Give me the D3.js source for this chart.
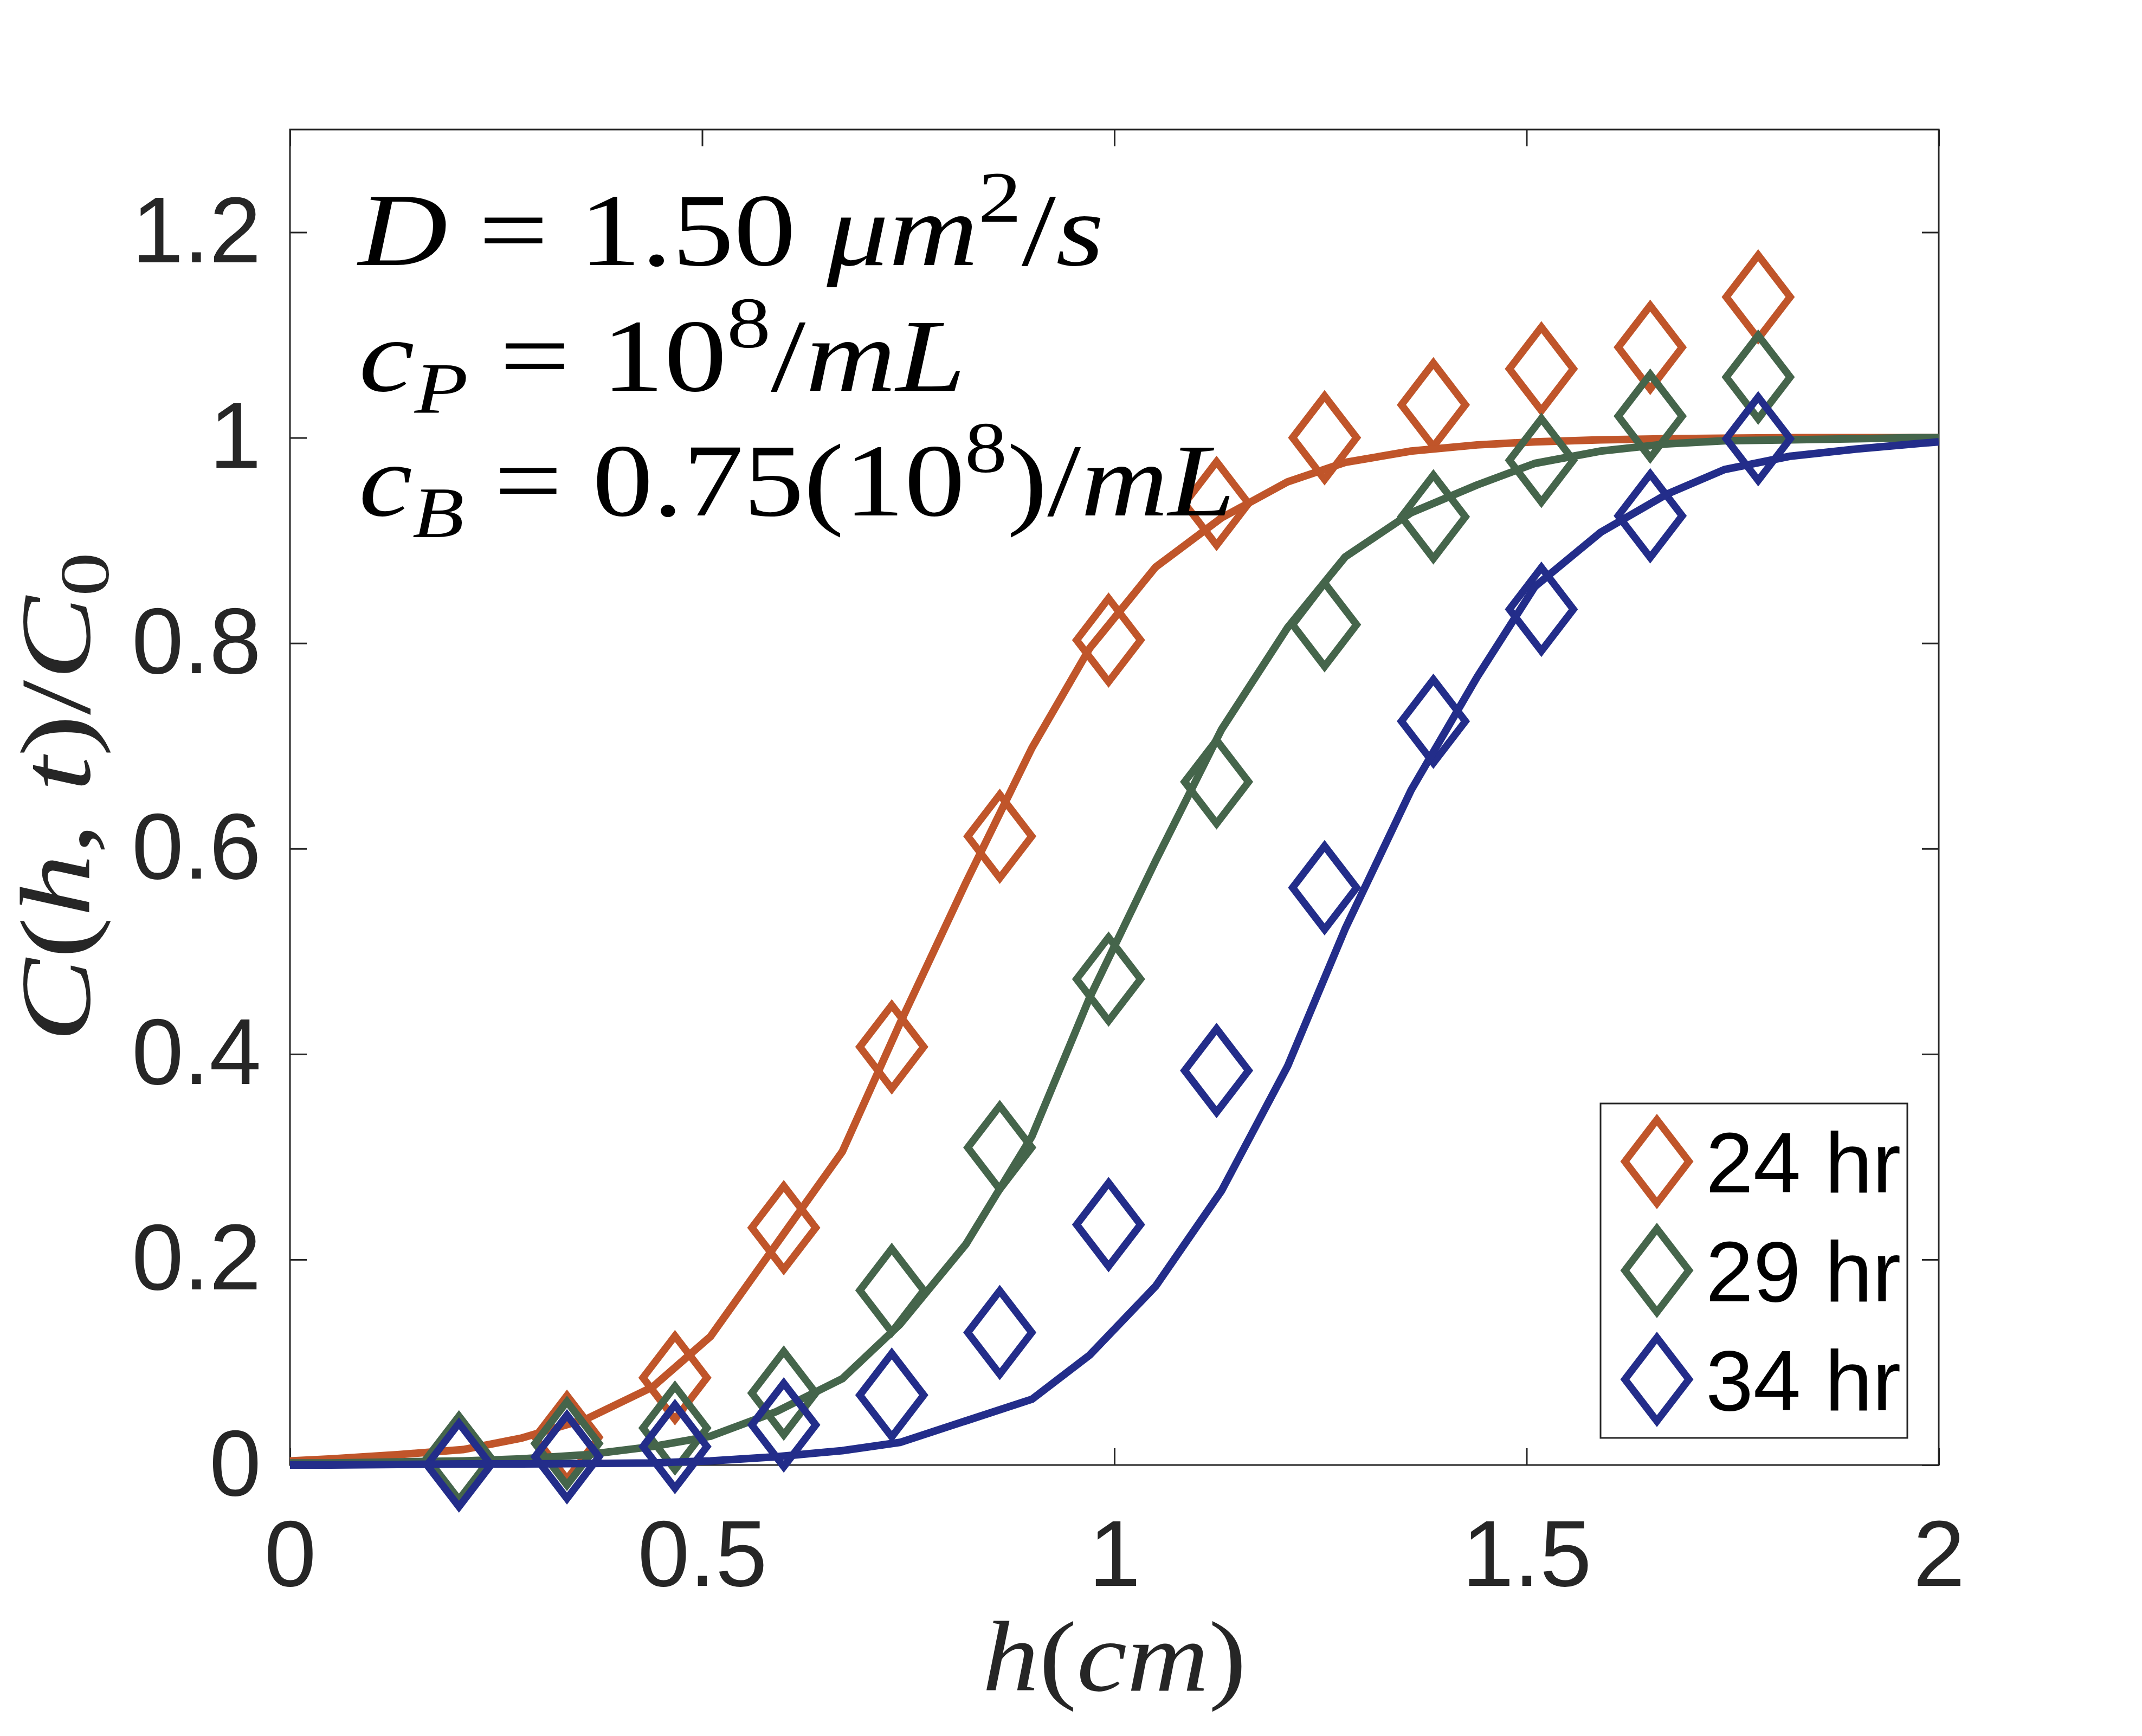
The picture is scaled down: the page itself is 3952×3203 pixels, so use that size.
<!DOCTYPE html>
<html>
<head>
<meta charset="utf-8">
<script src="https://cdn.jsdelivr.net/npm/d3@7"></script>
<style>
  body { margin: 0; background: #fff; }
  svg { display: block; }
</style>
</head>
<body>
<svg id="chart"></svg>
<script>
// ****** data ****** //
const seriesNames = ['24 hr', '29 hr', '34 hr'];
const seriesColors = ['#C0552A', '#45654B', '#232D8A'];

// measured points (diamonds)
const markerH = [0.205, 0.336, 0.467, 0.599, 0.730, 0.861, 0.993, 1.124, 1.255, 1.387, 1.518, 1.650, 1.781];
const measured24 = [0.005, 0.027, 0.085, 0.231, 0.407, 0.612, 0.803, 0.936, 1.0, 1.032, 1.067, 1.088, 1.137];
const measured29 = [0.007, 0.021, 0.036, 0.070, 0.170, 0.309, 0.473, 0.665, 0.818, 0.923, 0.978, 1.021, 1.059];
const measured34 = [0.0, 0.008, 0.018, 0.039, 0.068, 0.129, 0.234, 0.384, 0.562, 0.724, 0.833, 0.924, 0.999];

// model curves (solid lines)
const lineH = [0, 0.05, 0.13, 0.21, 0.28, 0.36, 0.44, 0.51, 0.59, 0.67, 0.74, 0.82, 0.90, 0.97,
               1.05, 1.13, 1.21, 1.28, 1.36, 1.44, 1.51, 1.59, 1.67, 1.74, 1.82, 1.90, 1.97, 2.0];
const model24 = [0.004, 0.006, 0.010, 0.015, 0.026, 0.045, 0.076, 0.125, 0.215, 0.305, 0.43, 0.567, 0.698, 0.795,
                 0.874, 0.922, 0.957, 0.976, 0.987, 0.993, 0.996, 0.998, 0.999, 0.9995, 1.0, 1.0, 1.0, 1.0];
const model29 = [0.002, 0.002, 0.003, 0.004, 0.006, 0.010, 0.018, 0.028, 0.052, 0.084, 0.137, 0.215, 0.32, 0.455,
                 0.588, 0.716, 0.815, 0.884, 0.927, 0.954, 0.975, 0.987, 0.994, 0.997, 0.998, 0.999, 1.0, 1.0];
const model34 = [0.0, 0.0, 0.0005, 0.001, 0.001, 0.0015, 0.002, 0.004, 0.008, 0.014, 0.022, 0.043, 0.064, 0.107,
                 0.174, 0.267, 0.388, 0.522, 0.657, 0.767, 0.855, 0.908, 0.945, 0.969, 0.982, 0.989, 0.994, 0.996];

const xTicks = [0, 0.5, 1, 1.5, 2];
const yTicks = [0, 0.2, 0.4, 0.6, 0.8, 1, 1.2];

const measured = [measured24, measured29, measured34];
const models = [model24, model29, model34];

// ****** layout ****** //
const W = 3952, H = 3203;
const plot = {left: 535, right: 3577, top: 239, bottom: 2703};
const axisColor = '#262626';
const tickLen = 31;

const svg = d3.select('#chart').attr('width', W).attr('height', H);
svg.append('rect').attr('width', W).attr('height', H).attr('fill', '#fff');

const x = d3.scaleLinear().domain([0, 2]).range([plot.left, plot.right]);
const y = d3.scaleLinear().domain([0, 1.3]).range([plot.bottom, plot.top]);
const fmt = d3.format('~g');

// ****** axes (ticks inside, mirrored) ****** //
function styleAxis(g) {
    g.select('.domain').remove();
    g.selectAll('.tick line').attr('stroke', axisColor).attr('stroke-width', 3);
    g.selectAll('.tick text')
        .attr('fill', axisColor)
        .attr('font-family', '"Liberation Sans", Arial, sans-serif')
        .attr('font-size', 172);
}

svg.append('g')
    .attr('transform', 'translate(0,' + plot.bottom + ')')
    .call(d3.axisBottom(x).tickValues(xTicks).tickFormat(fmt).tickSizeInner(-tickLen).tickSizeOuter(0).tickPadding(101))
    .call(styleAxis);
svg.append('g')
    .attr('transform', 'translate(0,' + plot.top + ')')
    .call(d3.axisTop(x).tickValues(xTicks).tickFormat('').tickSizeInner(-tickLen).tickSizeOuter(0))
    .call(styleAxis);
svg.append('g')
    .attr('transform', 'translate(' + plot.left + ',0)')
    .call(d3.axisLeft(y).tickValues(yTicks).tickFormat(fmt).tickSizeInner(-tickLen).tickSizeOuter(0).tickPadding(53))
    .call(styleAxis);
svg.append('g')
    .attr('transform', 'translate(' + plot.right + ',0)')
    .call(d3.axisRight(y).tickValues(yTicks).tickFormat('').tickSizeInner(-tickLen).tickSizeOuter(0))
    .call(styleAxis);

svg.append('rect')
    .attr('x', plot.left).attr('y', plot.top)
    .attr('width', plot.right - plot.left).attr('height', plot.bottom - plot.top)
    .attr('fill', 'none').attr('stroke', axisColor).attr('stroke-width', 3);

// ****** data marks ****** //
const halfW = 59, halfH = 77;
function diamond(cx, cy) {
    return 'M' + cx + ',' + (cy - halfH) + 'L' + (cx + halfW) + ',' + cy +
           'L' + cx + ',' + (cy + halfH) + 'L' + (cx - halfW) + ',' + cy + 'Z';
}

const line = d3.line().x(function(d){ return x(d[0]); }).y(function(d){ return y(d[1]); });
const marks = svg.append('g');

for (let s = 0; s < seriesNames.length; s++) {
    marks.append('g').selectAll('path')
        .data(markerH.map(function(h, i){ return [h, measured[s][i]]; }))
        .enter().append('path')
        .attr('d', function(d){ return diamond(x(d[0]), y(d[1])); })
        .attr('fill', 'none')
        .attr('stroke', seriesColors[s])
        .attr('stroke-width', 13.5)
        .attr('stroke-linejoin', 'miter');

    marks.append('path')
        .datum(lineH.map(function(h, i){ return [h, models[s][i]]; }))
        .attr('d', line)
        .attr('fill', 'none')
        .attr('stroke', seriesColors[s])
        .attr('stroke-width', 14)
        .attr('stroke-linejoin', 'round');
}

// ****** annotation ****** //
const serif = '"Liberation Serif", "Times New Roman", serif';
const note = svg.append('g').attr('font-family', serif).attr('fill', '#000');

function mathLine(yBase, xStart, width, parts) {
    const t = note.append('text')
        .attr('x', xStart).attr('y', yBase)
        .attr('font-size', 190)
        .attr('textLength', width)
        .attr('lengthAdjust', 'spacingAndGlyphs');
    parts.forEach(function(p){
        const ts = t.append('tspan').text(p.t);
        if (p.i) ts.attr('font-style', 'italic');
        if (p.sup) ts.attr('font-size', 133).attr('dy', -80);
        if (p.sub) ts.attr('font-size', 133).attr('dy', 40);
        if (p.back) ts.attr('dy', p.back);
    });
}

mathLine(489, 661, 1376, [
    {t: 'D', i: true}, {t: ' = 1.50 '}, {t: 'μm', i: true},
    {t: '2', sup: true}, {t: '/', back: 80}, {t: 's', i: true}
]);
mathLine(721, 662, 1120, [
    {t: 'c', i: true}, {t: 'P', i: true, sub: true}, {t: ' = 10', back: -40},
    {t: '8', sup: true}, {t: '/', back: 80}, {t: 'mL', i: true}
]);
mathLine(951, 662, 1617, [
    {t: 'c', i: true}, {t: 'B', i: true, sub: true}, {t: ' = 0.75(10', back: -40},
    {t: '8', sup: true}, {t: ')/', back: 80}, {t: 'mL', i: true}
]);

// ****** axis titles ****** //
svg.append('text')
    .attr('transform', 'translate(165,' + ((plot.top + plot.bottom) / 2) + ') rotate(-90)')
    .attr('text-anchor', 'middle')
    .attr('font-family', serif).attr('font-size', 185).attr('fill', axisColor)
    .attr('textLength', 904).attr('lengthAdjust', 'spacingAndGlyphs')
    .call(function(t){
        t.append('tspan').attr('font-style', 'italic').text('C');
        t.append('tspan').text('(');
        t.append('tspan').attr('font-style', 'italic').text('h');
        t.append('tspan').text(', ');
        t.append('tspan').attr('font-style', 'italic').text('t');
        t.append('tspan').text(')/');
        t.append('tspan').attr('font-style', 'italic').text('C');
        t.append('tspan').attr('font-size', 130).attr('dy', 35).text('0');
    });

svg.append('text')
    .attr('x', (plot.left + plot.right) / 2).attr('y', 3119)
    .attr('text-anchor', 'middle')
    .attr('font-family', serif).attr('font-size', 185).attr('fill', axisColor)
    .attr('textLength', 487).attr('lengthAdjust', 'spacingAndGlyphs')
    .call(function(t){
        t.append('tspan').attr('font-style', 'italic').text('h');
        t.append('tspan').text('(');
        t.append('tspan').attr('font-style', 'italic').text('cm');
        t.append('tspan').text(')');
    });

// ****** legend ****** //
const legend = svg.append('g');
legend.append('rect')
    .attr('x', 2953).attr('y', 2036).attr('width', 566).attr('height', 617)
    .attr('fill', '#fff').attr('stroke', axisColor).attr('stroke-width', 3);

const rows = legend.selectAll('g.row').data(seriesNames).enter().append('g')
    .classed('row', true)
    .attr('transform', function(d, i){ return 'translate(0,' + (2143 + i * 201) + ')'; });
rows.append('path')
    .attr('d', diamond(3057, 0))
    .attr('fill', 'none')
    .attr('stroke', function(d, i){ return seriesColors[i]; })
    .attr('stroke-width', 13.5);
rows.append('text')
    .attr('x', 3147).attr('dy', '0.36em')
    .attr('font-family', '"Liberation Sans", Arial, sans-serif')
    .attr('font-size', 158)
    .attr('fill', '#000')
    .text(function(d){ return d; });
</script>
</body>
</html>
